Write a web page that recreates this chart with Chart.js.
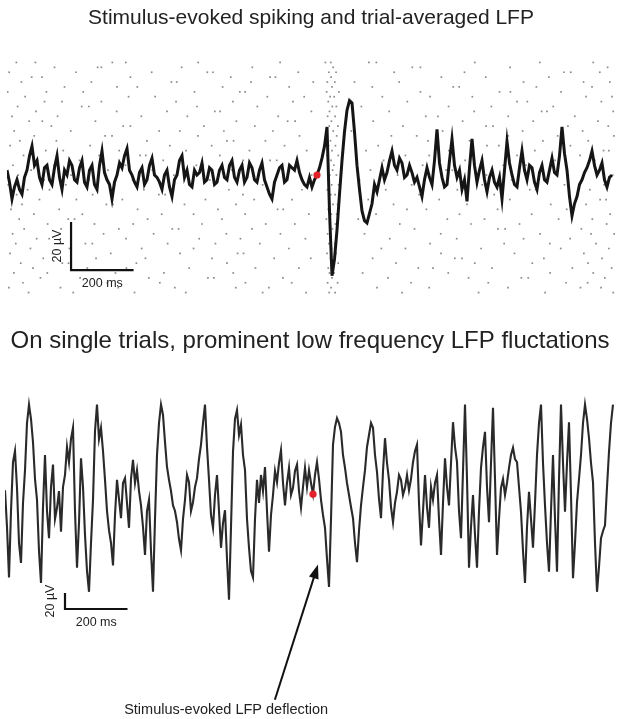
<!DOCTYPE html>
<html>
<head>
<meta charset="utf-8">
<script src="https://cdn.jsdelivr.net/npm/chart.js@4.4.1/dist/chart.umd.min.js"></script>
<style>
    html, body { margin: 0; padding: 0; background: #fff; }
    #wrap { position: relative; width: 620px; height: 719px; }
    .painel { position: absolute; left: 0; }
</style>
</head>
<body>
<div id="wrap">
    <canvas id="graficoMedia" class="painel" style="top:0" width="620" height="310"></canvas>
    <canvas id="graficoTrial" class="painel" style="top:310px" width="620" height="409"></canvas>
</div>
<script>
// trial-averaged LFP (µV), one sample every 8 ms starting at -992 ms
const inicioMedia = -992;
const passoMedia = 8;
const lfpMedia = [
    2, -3, -10, -5, -2, -6, -8, -1, 2, 8, 12, 4, 6, -1, -4, 3, 4, -2, -4, 3,
    8, -1, -6, 2, 0, 6, 4, -2, -3, 3, 6, -3, -5, 2, 4, -4, -6, 4, 10, 1,
    -2, -4, -10, -3, 0, 5, 3, 8, 11, 2, 0, -3, -5, 1, 3, -4, -2, 4, 7, 0,
    -1, -3, -6, 0, 2, -5, -9, -2, 0, 6, 8, -1, 2, -4, -5, 2, 0, 1, 5, -3,
    -2, 3, 2, -4, -3, 2, 4, -1, -2, 4, 6, -1, -3, 2, 4, -3, -1, 5, 3, -2,
    -3, 2, 5, -2, -5, -8, -10, -3, 0, 3, 4, -3, -2, 4, 3, 2, 6, 1, -2, -4,
    -5, -1, -5, -2, 0, 3, 7, 12, 20, -15, -42, -35, -23, -8, 6, 18, 27, 31, 30, 18,
    4, -6, -15, -19, -20, -16, -12, -4, -7, -2, 3, -2, 1, 6, 10, 4, 2, 7, 5, -1,
    0, 4, 1, -3, -1, -5, -9, -2, 3, -1, -4, 6, 19, 5, -1, -5, -4, 6, 15, 4,
    -1, 2, -6, -2, -11, 3, 15, 4, -3, 2, 6, -2, -7, -1, 2, -3, -5, -1, -10, 2,
    14, 5, 0, -4, -5, 3, 10, 2, -2, 4, 3, -3, -6, 1, 4, -2, -3, 2, 7, 1,
    0, 8, 20, 9, 2, -9, -17, -12, -9, -4, -2, 1, 3, 6, 10, 4, 0, 2, 5, -2,
    -5, -1, 0
];

// single trial LFP (µV), one sample every 6.4 ms starting at -985.6 ms
const inicioTrial = -985.6;
const passoTrial = 6.4;
const lfpTrial = [
    6, -40, -103, -20, 41, 55, 9, -60, -85, -10, 31, 90, 113, 95, 66, 20, -6, -70, -110, -15,
    50, -20, -54, 10, 38, -30, -16, 5, -46, 10, 25, 60, 41, 70, 84, -20, -91, -35, 46, 10,
    -50, -95, -121, -60, -6, 80, 113, 70, 84, 55, 19, -20, -44, -60, -88, -25, 19, -5, -29, 15,
    21, -10, -41, 20, 44, 15, 31, 5, -13, -40, -75, -20, -6, -70, -121, -30, 50, 90, 113, 100,
    66, 35, 19, 5, -13, -20, -34, -55, -69, -30, -6, 25, 16, -20, -9, 10, 21, 45, 63, 90,
    113, 60, 19, -25, -41, 0, 25, -20, -66, -35, -19, -80, -131, -40, 54, 95, 106, 75, 88, 50,
    31, -30, -66, -95, -103, -30, 19, -10, 25, 5, 35, -20, -71, -25, 0, 30, 16, 40, 56, 15,
    -13, 15, 34, 0, 9, 30, 38, 5, -16, 10, 34, 10, 31, 15, 1, 25, 41, 20, -6, -25,
    -41, -80, -115, -30, 63, 85, 96, 90, 79, 50, 34, 15, 0, -15, -29, -60, -84, -45, -13, 10,
    31, 60, 75, 90, 84, 50, 29, -5, -29, 30, 71, 40, 19, -15, -34, -10, 4, 25, 19, 0,
    9, 25, 6, 20, 41, 55, 63, -10, -63, -20, 25, -15, -41, 10, -6, 15, 25, -30, -75, -10,
    46, 10, -13, 40, 91, 60, 41, -20, -54, 30, 113, 20, -91, -40, 0, -50, -91, -20, 34, 60,
    79, 10, -34, 40, 109, 20, -75, -30, 9, 20, 0, 15, 34, 50, 59, 45, 41, 10, -21, -70,
    -110, -40, 4, -30, -66, -10, 50, 90, 113, 40, -13, -60, -96, -20, 50, -30, -96, 20, 113, 40,
    -21, 40, 91, 0, -104, -60, -9, 20, 50, 90, 113, 95, 71, 40, 16, -60, -121, -90, -54, -45,
    -38, 10, 54, 90, 113
];

// spike times (ms) of each trial in the raster
const spikeTimes = [
    [-962, -901, -655, -612, -380, -118, 27, 44, 166, 190, 505, 713, 884],
    [-840, -702, -690, -433, -207, 52, 305, 331, 618, 930],
    [-985, -771, -529, -351, -333, -60, 38, 61, 247, 472, 790, 812, 905],
    [-913, -880, -597, -276, -150, -133, 45, 398, 540, 742],
    [-946, -722, -466, -449, -211, -12, 33, 57, 120, 263, 661, 853, 937],
    [-808, -640, -575, -302, -89, 48, 177, 436, 455, 702, 880],
    [-990, -866, -748, -392, -247, -230, 31, 70, 331, 584, 619, 781],
    [-934, -603, -518, -159, -41, 42, 55, 209, 362, 497, 861, 944],
    [-872, -816, -690, -451, -269, -77, 36, 289, 640, 673, 910],
    [-958, -753, -730, -384, -191, 49, 62, 142, 421, 558, 756],
    [-899, -641, -480, -327, -310, -18, 40, 231, 503, 719, 736, 948],
    [-976, -830, -562, -415, -124, 34, 58, 348, 387, 612, 825],
    [-921, -879, -709, -258, -94, -70, 46, 180, 466, 692, 899],
    [-850, -620, -597, -362, -199, 39, 67, 275, 541, 563, 803, 932],
    [-969, -788, -505, -439, -298, -141, 52, 110, 402, 658, 850],
    [-905, -678, -656, -381, -56, 30, 63, 238, 319, 612, 770, 950],
    [-951, -834, -544, -288, -267, -165, 43, 355, 488, 723, 868],
    [-982, -726, -471, -337, -104, 37, 59, 196, 544, 582, 811],
    [-868, -812, -633, -419, -216, -33, 48, 157, 422, 697, 917, 934],
    [-939, -697, -566, -548, -311, 32, 68, 283, 359, 640, 842],
    [-894, -760, -492, -236, -150, -129, 45, 213, 474, 762, 889],
    [-973, -842, -613, -386, -364, -63, 36, 54, 338, 596, 669, 907],
    [-915, -669, -527, -272, -112, 50, 171, 413, 433, 721, 860],
    [-956, -787, -763, -458, -185, -17, 41, 62, 258, 542, 804, 946],
    [-873, -729, -590, -343, -321, -98, 35, 136, 370, 623, 737],
    [-988, -804, -648, -405, -174, 47, 69, 303, 512, 529, 792, 919],
    [-926, -856, -554, -282, -48, 33, 220, 449, 681, 700, 873],
    [-961, -718, -506, -486, -237, -143, 44, 58, 327, 567, 836],
    [-888, -770, -623, -357, -201, -80, 39, 164, 391, 617, 906, 925],
    [-944, -674, -653, -424, -259, 51, 66, 245, 480, 748, 861],
    [-979, -825, -574, -317, -126, -108, 36, 288, 350, 578, 799],
    [-906, -751, -497, -395, -230, -26, 46, 63, 189, 456, 687, 938],
    [-953, -796, -776, -542, -304, 30, 132, 417, 536, 773, 881],
    [-862, -712, -588, -368, -164, -71, 42, 59, 265, 493, 648, 927],
    [-937, -819, -634, -463, -443, -208, 49, 312, 579, 602, 846],
    [-974, -683, -523, -290, -117, 34, 64, 152, 396, 714, 877, 951],
    [-897, -857, -611, -377, -245, -37, 45, 233, 447, 661, 810],
    [-964, -741, -719, -478, -325, -183, 38, 57, 362, 599, 745, 893],
    [-917, -792, -561, -395, -90, 47, 206, 283, 525, 780, 934],
    [-982, -846, -660, -438, -254, -235, 32, 61, 397, 632, 854],
    [-876, -707, -549, -336, -137, -20, 43, 178, 441, 464, 726, 912],
    [-948, -815, -795, -578, -288, 51, 68, 253, 505, 689, 867],
    [-909, -735, -610, -409, -197, -58, 36, 324, 371, 560, 817, 943],
    [-970, -863, -645, -490, -268, 40, 55, 146, 420, 746, 884],
    [-885, -758, -538, -349, -330, -109, 48, 227, 485, 654, 676, 921],
    [-941, -671, -503, -229, -81, 34, 66, 301, 548, 797, 866],
    [-986, -821, -636, -455, -260, -154, 45, 192, 359, 611, 843, 909],
    [-923, -780, -584, -420, -174, -35, 39, 58, 272, 517, 730, 948]
];

const tempoEstimulo = 0;
const escalaTempo = 200;
const escalaVolt = 20;
const fonte = '"Liberation Sans", Arial, Helvetica, sans-serif';

function montarSerie(inicio, passo, valores) {
    return valores.map((v, i) => ({ x: inicio + i * passo, y: v }));
}

function montarRaster() {
    const pontos = [];
    spikeTimes.forEach((tempos, trial) => {
        tempos.forEach(t => pontos.push({ x: t, y: trial }));
    });
    return pontos;
}

function valorNoEstimulo(inicio, passo, valores) {
    const i = Math.round((tempoEstimulo - inicio) / passo);
    return valores[i];
}

const barraEscala = {
    id: 'barraEscala',
    afterDatasetsDraw(chart, args, opts) {
        const { ctx, scales: { x, y } } = chart;
        const x0 = x.getPixelForValue(opts.t0);
        const x1 = x.getPixelForValue(opts.t0 + escalaTempo);
        const y0 = y.getPixelForValue(opts.v0);
        const y1 = y.getPixelForValue(opts.v0 + escalaVolt);
        ctx.save();
        ctx.strokeStyle = '#111';
        ctx.lineWidth = 2.2;
        ctx.beginPath();
        ctx.moveTo(x0, y1);
        ctx.lineTo(x0, y0);
        ctx.lineTo(x1, y0);
        ctx.stroke();
        ctx.fillStyle = '#222';
        ctx.font = '12.5px ' + fonte;
        ctx.textAlign = 'center';
        ctx.textBaseline = 'middle';
        ctx.fillText(escalaTempo + ' ms', (x0 + x1) / 2, y0 + 14);
        ctx.translate(x0 - 14, (y0 + y1) / 2);
        ctx.rotate(-Math.PI / 2);
        ctx.fillText(escalaVolt + ' µV', 0, 0);
        ctx.restore();
    }
};

const seta = {
    id: 'seta',
    afterDatasetsDraw(chart, args, opts) {
        if (!opts.ponta) return;
        const { ctx, scales: { x, y } } = chart;
        const px = x.getPixelForValue(opts.ponta.x), py = y.getPixelForValue(opts.ponta.y);
        const cx = x.getPixelForValue(opts.cauda.x), cy = y.getPixelForValue(opts.cauda.y);
        const ang = Math.atan2(py - cy, px - cx);
        ctx.save();
        ctx.strokeStyle = '#111';
        ctx.fillStyle = '#111';
        ctx.lineWidth = 2;
        ctx.beginPath();
        ctx.moveTo(cx, cy);
        ctx.lineTo(px - 10 * Math.cos(ang), py - 10 * Math.sin(ang));
        ctx.stroke();
        ctx.beginPath();
        ctx.moveTo(px, py);
        ctx.lineTo(px - 14 * Math.cos(ang) + 5 * Math.sin(ang), py - 14 * Math.sin(ang) - 5 * Math.cos(ang));
        ctx.lineTo(px - 14 * Math.cos(ang) - 5 * Math.sin(ang), py - 14 * Math.sin(ang) + 5 * Math.cos(ang));
        ctx.closePath();
        ctx.fill();
        ctx.fillStyle = '#222';
        ctx.font = '14.5px ' + fonte;
        ctx.textAlign = 'center';
        ctx.textBaseline = 'middle';
        ctx.fillText(opts.texto, x.getPixelForValue(opts.posTexto.x), y.getPixelForValue(opts.posTexto.y));
        ctx.restore();
    }
};

function pontoEstimulo(inicio, passo, valores) {
    return {
        type: 'scatter',
        data: [{ x: tempoEstimulo, y: valorNoEstimulo(inicio, passo, valores) }],
        backgroundColor: '#e3212b',
        borderWidth: 0,
        pointRadius: 3.6
    };
}

function gerarGraficoMedia() {
    new Chart(document.getElementById('graficoMedia'), {
        type: 'line',
        data: {
            datasets: [
                pontoEstimulo(inicioMedia, passoMedia, lfpMedia),
                {
                    data: montarSerie(inicioMedia, passoMedia, lfpMedia),
                    borderColor: '#151515',
                    borderWidth: 3,
                    pointRadius: 0,
                    tension: 0
                },
                {
                    type: 'scatter',
                    data: montarRaster(),
                    yAxisID: 'yRaster',
                    pointStyle: 'rect',
                    pointRadius: 1.2,
                    borderWidth: 0,
                    backgroundColor: 'rgba(100,100,100,0.75)'
                }
            ]
        },
        options: {
            responsive: false,
            animation: false,
            layout: { padding: { left: 7, right: 5, top: 0, bottom: 15 } },
            scales: {
                x: { type: 'linear', display: false, min: -992, max: 953.6 },
                y: { display: false, min: -50, max: 47.9 },
                yRaster: { display: false, min: -0.5, max: spikeTimes.length - 0.5, reverse: true }
            },
            plugins: {
                legend: { display: false },
                tooltip: { enabled: false },
                title: {
                    display: true,
                    text: 'Stimulus-evoked spiking and trial-averaged LFP',
                    color: '#222',
                    font: { family: fonte, size: 21, weight: 'normal' },
                    padding: { top: 5.4, bottom: 29.4 }
                },
                barraEscala: { t0: -787, v0: -39.6 }
            }
        },
        plugins: [barraEscala]
    });
}

function gerarGraficoTrial() {
    new Chart(document.getElementById('graficoTrial'), {
        type: 'line',
        data: {
            datasets: [
                pontoEstimulo(inicioTrial, passoTrial, lfpTrial),
                {
                    data: montarSerie(inicioTrial, passoTrial, lfpTrial),
                    borderColor: '#2a2a2a',
                    borderWidth: 2.1,
                    pointRadius: 0,
                    tension: 0
                }
            ]
        },
        options: {
            responsive: false,
            animation: false,
            layout: { padding: { left: 5, right: 5, top: 0, bottom: 96 } },
            scales: {
                x: { type: 'linear', display: false, min: -985.6, max: 966.4 },
                y: { display: false, min: -160, max: 125 }
            },
            plugins: {
                legend: { display: false },
                tooltip: { enabled: false },
                title: {
                    display: true,
                    text: 'On single trials, prominent low frequency LFP fluctations',
                    color: '#222',
                    font: { family: fonte, size: 24, weight: 'normal' },
                    padding: { top: 16.6, bottom: 39.6 }
                },
                barraEscala: { t0: -793.6, v0: -142.5 },
                seta: {
                    ponta: { x: 16, y: -87 },
                    cauda: { x: -122, y: -256 },
                    texto: 'Stimulus-evoked LFP deflection',
                    posTexto: { x: -278, y: -269 }
                }
            }
        },
        plugins: [barraEscala, seta]
    });
}

document.addEventListener('DOMContentLoaded', function () {
    gerarGraficoMedia();
    gerarGraficoTrial();
});
</script>
</body>
</html>
